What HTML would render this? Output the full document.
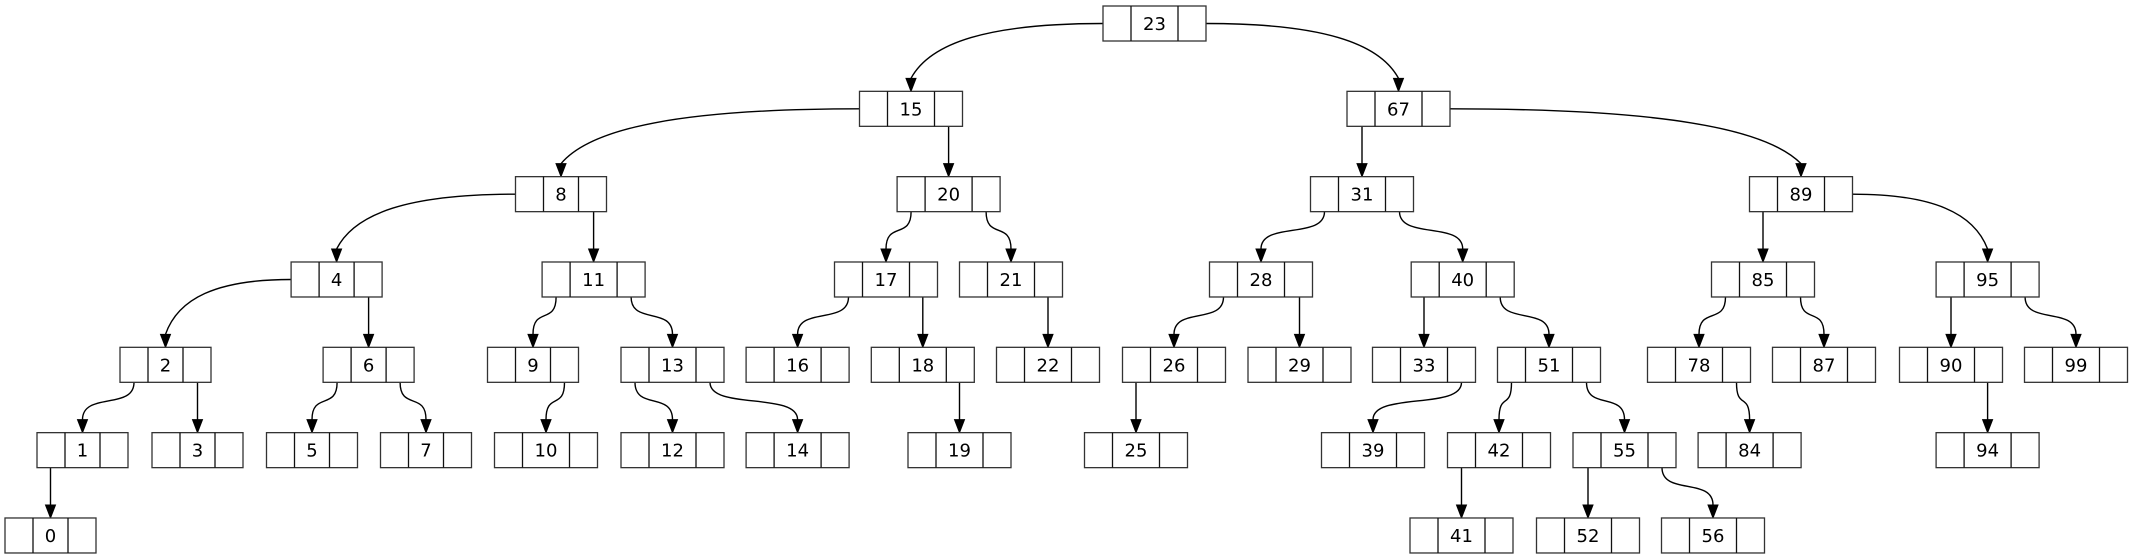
<!DOCTYPE html>
<html><head><meta charset="utf-8"><style>
html,body{margin:0;padding:0;background:#fff;width:2132px;height:560px;overflow:hidden}
svg text{font-family:"DejaVu Sans","Liberation Sans",sans-serif;font-size:18px}
</style></head><body>
<svg id="s" width="2132" height="560" xmlns="http://www.w3.org/2000/svg"></svg>
<script>
const N={23:[1154.5,0],15:[911,1],67:[1398.5,1],8:[561,2],20:[948.6,2],31:[1362,2],89:[1801,2],
4:[336.6,3],11:[593.6,3],17:[886,3],21:[1011,3],28:[1261,3],40:[1462.7,3],85:[1763,3],95:[1987.6,3],
2:[165.5,4],6:[368.6,4],9:[533,4],13:[672.5,4],16:[797.6,4],18:[922.8,4],22:[1048,4],26:[1174,4],29:[1299.5,4],33:[1424,4],51:[1549,4],78:[1699,4],87:[1824,4],90:[1951,4],99:[2076,4],
1:[82.5,5],3:[197.5,5],5:[312,5],7:[426,5],10:[546,5],12:[672.5,5],14:[797.6,5],19:[959.5,5],25:[1136,5],39:[1373,5],42:[1499,5],55:[1624.5,5],84:[1749.6,5],94:[1987.6,5],
0:[50.5,6],41:[1461.5,6],52:[1588,6],56:[1713,6]};
const E=[[23,15,'L'],[23,67,'R'],[15,8,'L'],[15,20,'R'],[67,31,'L'],[67,89,'R'],[8,4,'L'],[8,11,'R'],[20,17,'L'],[20,21,'R'],[31,28,'L'],[31,40,'R'],[89,85,'L'],[89,95,'R'],
[4,2,'L'],[4,6,'R'],[11,9,'L'],[11,13,'R'],[17,16,'L'],[17,18,'R'],[21,22,'R'],[28,26,'L'],[28,29,'R'],[40,33,'L'],[40,51,'R'],[85,78,'L'],[85,87,'R'],[95,90,'L'],[95,99,'R'],
[2,1,'L'],[2,3,'R'],[6,5,'L'],[6,7,'R'],[9,10,'R'],[13,12,'L'],[13,14,'R'],[18,19,'R'],[26,25,'L'],[33,39,'R'],[51,42,'L'],[51,55,'R'],[78,84,'R'],[90,94,'R'],[1,0,'L'],[42,41,'L'],[55,52,'L'],[55,56,'R']];
const H=35,C=28;
function Y(r){return 6+r*85.33;}
function W(k){return 56+(String(k).length>1?47:35);}
let o='';
for(const [p,c,s] of E){
 const [px,pr]=N[p],[cx,cr]=N[c];const w=W(p);
 const py=Y(pr),ty=Y(cr);
 const cellC = s=='L'? px-w/2+C/2 : px+w/2-C/2;
 const dx=cx-cellC;
 const ey=ty-13;
 let d;
 if(Math.abs(dx)<4){d=`M${cx},${py+H} L${cx},${ey}`;}
 else if(Math.abs(dx)>100){
  const sx= s=='L'? px-w/2 : px+w/2; const my=py+H/2;
  d=`M${sx},${my} C${sx+(cx-sx)*0.6},${my} ${cx-(cx-sx)*0.1},${my+(ey-my)*0.35} ${cx},${ey}`;
 } else {
  d=`M${cellC},${py+H} C${cellC},${py+H+28} ${cx},${ey-28} ${cx},${ey}`;
 }
 o+=`<path d="${d}" fill="none" stroke="#000" stroke-width="1.4"/>`;
 o+=`<polygon points="${cx-5},${ey} ${cx+5},${ey} ${cx},${ty}" fill="#000" stroke="#000"/>`;
}
for(const k in N){
 const [x,r]=N[k];const w=W(k);const y=Y(r);const l=x-w/2;
 o+=`<rect x="${l}" y="${y}" width="${w}" height="${H}" fill="#fff" stroke="#333" stroke-width="1.3"/>`;
 o+=`<line x1="${l+C}" y1="${y}" x2="${l+C}" y2="${y+H}" stroke="#111" stroke-width="1.3"/>`;
 o+=`<line x1="${l+w-C}" y1="${y}" x2="${l+w-C}" y2="${y+H}" stroke="#111" stroke-width="1.3"/>`;
 o+=`<text x="${x}" y="${y+24}" text-anchor="middle">${k}</text>`;
}
document.getElementById('s').innerHTML=o;
</script>
</body></html>
